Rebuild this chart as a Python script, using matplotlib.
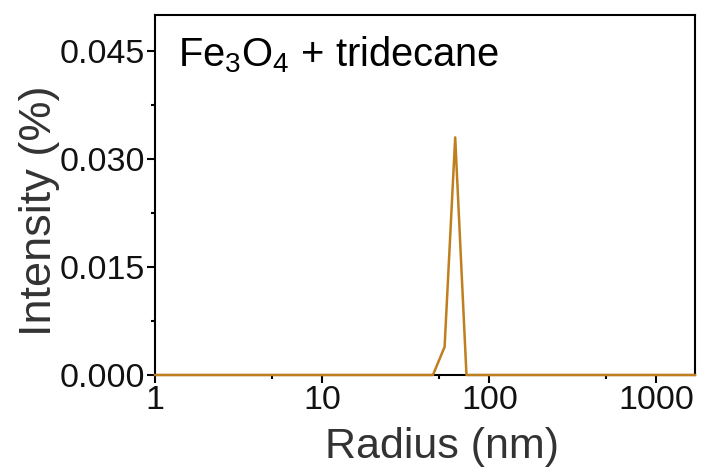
import matplotlib
matplotlib.use("Agg")
import matplotlib.pyplot as plt
from matplotlib.ticker import FixedLocator, NullFormatter

plt.rcParams['font.family'] = ['Liberation Sans', 'DejaVu Sans']
plt.rcParams['mathtext.fontset'] = 'custom'
plt.rcParams['mathtext.rm'] = 'Liberation Sans'
plt.rcParams['mathtext.it'] = 'Liberation Sans:italic'

# DLS size distribution
radius = [1, 46, 54, 62.5, 73, 1700]
intensity = [0.0, 0.0, 0.0039, 0.033, 0.0, 0.0]

yticks = [0.000, 0.015, 0.030, 0.045]
ytick_labels = ["0.000", "0.015", "0.030", "0.045"]
xticks = [1, 10, 100, 1000]
xtick_labels = ["1", "10", "100", "1000"]

fig = plt.figure(figsize=(7.01, 4.68), dpi=100)
ax = fig.add_axes([155/701, 1 - 375/468, 540/701, 360/468])

ax.plot(radius, intensity, color='#C07F1E', lw=1.8, clip_on=False, zorder=5)

ax.set_xscale('log')
ax.set_xlim(1, 1700)
ax.set_ylim(0, 0.05)

ax.set_xticks(xticks)
ax.set_xticklabels(xtick_labels)
ax.xaxis.set_minor_locator(FixedLocator([5, 50, 500]))
ax.xaxis.set_minor_formatter(NullFormatter())
ax.set_yticks(yticks)
ax.set_yticklabels(ytick_labels)
ax.yaxis.set_minor_locator(FixedLocator([0.0075, 0.0225, 0.0375]))

for s in ax.spines.values():
    s.set_linewidth(1.5)
ax.tick_params(which='major', direction='out', length=6, width=1.5, labelsize=24.5, pad=1,
               labelcolor='#111111')
ax.tick_params(which='minor', direction='out', length=3, width=1.5)

ax.set_xlabel("Radius (nm)", fontsize=31, color='#333333', labelpad=8)
ax.xaxis.label.set_x(0.531)
ax.set_ylabel("Intensity (%)", fontsize=32.5, color='#333333', labelpad=0)
ax.yaxis.label.set_y(0.456)

ax.text(0.042, 0.945, r"Fe$_\mathrm{3}$O$_\mathrm{4}$ + tridecane", transform=ax.transAxes,
        fontsize=28.7, va='top', ha='left')

fig.savefig("out.png", dpi=100)
